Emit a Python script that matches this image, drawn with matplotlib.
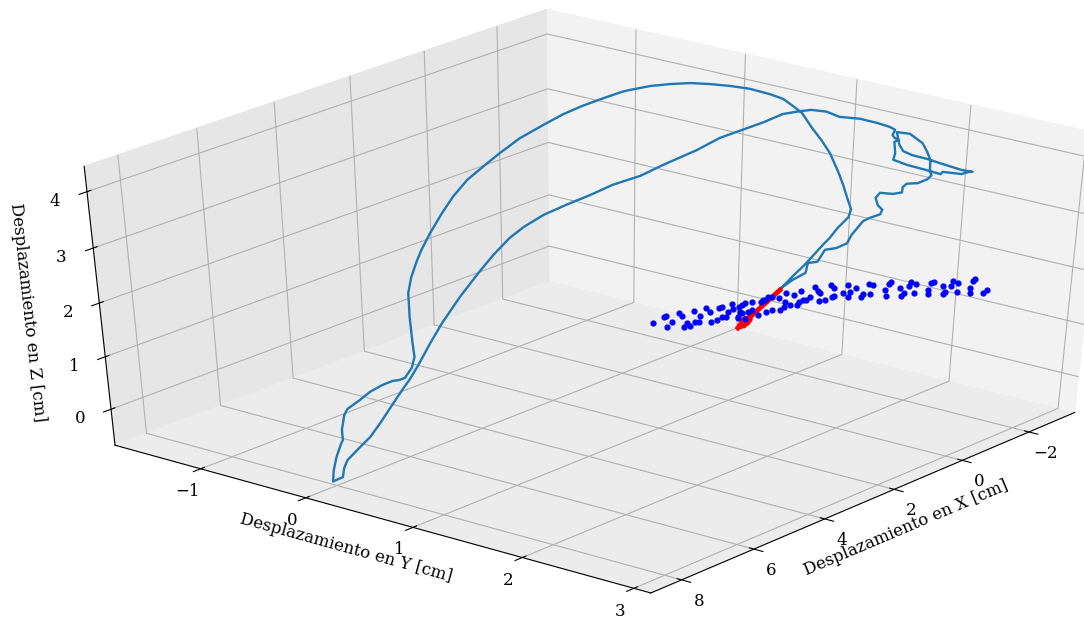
import numpy as np
import matplotlib
matplotlib.use('Agg')
import matplotlib.pyplot as plt
from matplotlib.transforms import Bbox

plt.rcParams['font.family'] = 'DejaVu Serif'
plt.rcParams['font.size'] = 12

curve_x = [0.74,0.59,0.47,0.28,0.21,0.13,0.03,0.00,0.04,0.10,0.16,0.26,0.35,0.46,0.57,0.67,0.78,0.92,1.13,1.34,1.55,1.76,1.97,2.18,2.38,2.46,
2.67,2.88,3.09,3.30,3.55,3.76,3.90,4.11,4.27,4.40,4.53,4.63,4.69,4.76,4.80,4.79,4.77,4.76,4.79,4.87,4.93,5.02,5.13,5.27,5.39,5.54,
5.58,5.61,5.60,5.63,5.69,5.73,5.74,5.63,5.61,5.56,5.48,5.39,5.30,5.18,5.03,4.90,4.82,4.72,4.58,4.44,4.23,4.03,3.86,3.67,3.53,3.31,
3.05,2.81,2.56,2.27,2.03,1.67,1.43,1.19,0.98,0.77,0.60,0.47,0.31,0.17,-0.04,-0.22,-0.36,-0.42,-0.39,-0.42,-0.47,-0.42,-0.43,-0.42,
-0.57,-0.78,-0.93,-0.95,-1.06,-1.16,-1.22,-1.27,-1.16,-1.06,-0.92,-0.79,-0.62,-0.52,-0.47,-0.45,-0.44,-0.58,-0.72,-0.77,-0.81,-0.82,
-0.84,-0.80,-0.70,-0.58,-0.54,-0.53,-0.44,-0.30,-0.25,-0.29,-0.33,-0.31,-0.21,-0.13,-0.07,-0.02,0.03,0.13,0.26,0.33,0.44,0.46,0.59,
0.73]
curve_y = [1.66,1.73,1.79,1.89,1.92,1.96,2.02,2.03,2.01,1.98,1.95,1.90,1.85,1.80,1.74,1.69,1.64,1.57,1.46,1.36,1.25,1.15,1.04,0.94,0.83,0.79,
0.69,0.58,0.48,0.37,0.25,0.14,0.07,-0.04,-0.12,-0.18,-0.25,-0.30,-0.33,-0.36,-0.38,-0.38,-0.37,-0.36,-0.38,-0.42,-0.45,-0.49,-0.55,
-0.62,-0.68,-0.75,-0.77,-0.79,-0.79,-0.80,-0.83,-0.85,-0.86,-0.80,-0.79,-0.77,-0.72,-0.68,-0.63,-0.57,-0.50,-0.43,-0.39,-0.34,-0.27,
-0.20,-0.10,0.01,0.09,0.18,0.26,0.37,0.50,0.62,0.74,0.89,1.01,1.19,1.31,1.43,1.54,1.64,1.73,1.79,1.87,1.94,2.05,2.14,2.21,2.24,2.23,
2.24,2.26,2.24,2.25,2.24,2.32,2.42,2.50,2.51,2.57,2.61,2.65,2.67,2.61,2.56,2.49,2.43,2.34,2.29,2.27,2.26,2.25,2.32,2.39,2.42,2.44,
2.44,2.45,2.43,2.38,2.32,2.30,2.30,2.25,2.18,2.16,2.17,2.20,2.19,2.13,2.10,2.07,2.04,2.02,1.96,1.90,1.86,1.81,1.80,1.73,1.66]
curve_z = [1.94,2.20,2.40,2.78,2.89,3.07,3.27,3.41,3.57,3.84,4.07,4.40,4.62,4.83,5.09,5.21,5.33,5.41,5.50,5.55,5.58,5.60,5.58,5.55,5.48,5.45,
5.34,5.21,5.07,4.88,4.66,4.40,4.22,3.93,3.63,3.34,2.98,2.68,2.46,2.18,1.89,1.44,0.95,0.69,0.48,0.29,0.25,0.23,0.15,0.02,-0.14,-0.31,
-0.43,-0.72,-0.92,-1.00,-1.26,-1.52,-1.75,-1.66,-1.48,-1.32,-1.16,-1.02,-0.86,-0.59,-0.24,0.09,0.27,0.54,0.95,1.33,1.81,2.26,2.58,
2.89,3.09,3.31,3.50,3.66,3.84,4.00,4.19,4.45,4.66,4.80,4.93,5.07,5.12,5.14,5.11,5.02,4.99,4.92,4.85,4.80,4.71,4.66,4.62,4.59,4.40,
4.28,4.19,4.10,4.03,4.07,4.05,4.03,4.07,4.07,4.10,4.15,4.22,4.29,4.36,4.43,4.54,4.66,4.76,4.73,4.57,4.42,4.28,4.07,4.01,3.94,3.87,
3.86,3.80,3.71,3.68,3.70,3.61,3.48,3.40,3.32,3.25,3.20,3.07,2.95,2.80,2.71,2.68,2.46,2.44,2.26,2.13,1.96]

dots_x = [2.12,1.99,1.97,1.91,1.96,1.84,1.80,1.78,1.74,1.71,1.67,1.65,1.61,1.60,1.53,1.49,1.47,1.41,1.40,1.36,1.36,1.32,1.30,1.25,1.23,1.18,
1.18,1.14,1.11,1.14,1.07,1.04,1.03,1.10,0.96,0.94,0.89,0.88,0.85,0.82,0.81,0.74,0.72,0.69,0.67,0.66,0.62,0.58,0.54,0.52,0.49,0.47,
0.43,0.40,0.35,0.31,0.29,0.30,0.23,0.17,0.15,0.16,0.14,0.04,-0.01,-0.03,-0.02,-0.11,-0.15,-0.18,-0.23,-0.28,-0.26,-0.42,-0.43,-0.46,
-0.49,-0.58,-0.63,-0.59,-0.68,-0.69,-0.73,-0.75,-0.88,-0.89,-0.92,-0.95,-1.05,-1.08,-1.05,-1.13,-1.15,-1.21,-1.20,-1.35,-1.35,-1.38,
-1.39,-1.50,-1.53,1.16,1.18,0.91]
dots_y = [0.97,1.03,1.04,1.07,1.05,1.11,1.13,1.14,1.16,1.17,1.19,1.20,1.22,1.23,1.26,1.28,1.29,1.32,1.33,1.35,1.35,1.37,1.38,1.40,1.41,1.44,
1.44,1.46,1.47,1.46,1.49,1.51,1.51,1.48,1.55,1.56,1.58,1.59,1.60,1.62,1.62,1.66,1.67,1.69,1.69,1.70,1.72,1.74,1.76,1.77,1.78,1.79,
1.81,1.83,1.86,1.87,1.88,1.88,1.91,1.94,1.96,1.95,1.96,2.01,2.04,2.05,2.04,2.08,2.11,2.12,2.15,2.17,2.16,2.24,2.25,2.26,2.27,2.32,
2.35,2.33,2.37,2.38,2.40,2.41,2.48,2.48,2.49,2.51,2.56,2.57,2.56,2.60,2.61,2.64,2.64,2.71,2.71,2.72,2.73,2.78,2.80,1.45,1.44,1.57]
dots_z = [1.336,1.448,1.461,1.355,1.249,1.523,1.461,1.261,1.324,1.28,1.56,1.355,1.355,1.461,1.604,1.542,1.355,1.386,1.604,1.635,1.436,1.448,1.542,1.678,1.585,1.635,1.417,1.666,1.697,1.511,1.542,1.728,1.573,1.398,1.479,1.728,1.759,1.542,1.82,1.808,1.573,1.789,1.573,1.635,1.728,1.882,1.666,1.851,1.666,1.728,1.931,1.759,1.759,1.82,1.993,1.931,1.882,1.746,1.759,2.036,1.974,1.82,1.833,1.882,2.036,1.913,1.808,1.974,1.82,1.864,2.054,2.036,1.864,1.944,1.833,2.054,2.079,1.974,1.882,1.833,2.017,2.097,1.882,2.054,1.956,1.864,2.067,2.097,2.017,1.913,1.864,2.017,2.116,2.079,1.901,1.974,1.882,2.116,2.14,1.894,1.944,1.535,1.442,1.759]

shaft_x = [0.73,1.176]
shaft_y = [1.663,1.439]
shaft_z = [1.944,1.236]
head_x = [1.058,1.09,1.122,1.154]
head_y = [1.498,1.482,1.466,1.45]
head_z = [1.405,1.367,1.311,1.274]
head_sizes = [20,40,30,14]

x_ticks = [-2,0,2,4,6,8]
y_ticks = [-1,0,1,2,3]
z_ticks = [0,1,2,3,4]

fig = plt.figure(figsize=(10.84,6.21), dpi=100)
rect = [-0.065,-0.0128,1.2,1.0504]
ax = fig.add_axes(rect, projection='3d')
ax.apply_aspect = lambda position=None: None
ax._set_position(Bbox.from_bounds(*rect), 'both')
ax.set_box_aspect((1,1,1), zoom=0.909)
ax.set_xlim(-3.39,8.84); ax.set_ylim(-1.83,3.15); ax.set_zlim(-0.7,4.44)
ax.view_init(elev=38, azim=39)
ax.set_xticks(x_ticks); ax.set_yticks(y_ticks); ax.set_zticks(z_ticks)
ax.set_xlabel('Desplazamiento en X [cm]')
ax.set_ylabel('Desplazamiento en Y [cm]')
ax.set_zlabel('Desplazamiento en Z [cm]', labelpad=5.5)
for a, c in ((ax.xaxis,.95),(ax.yaxis,.90),(ax.zaxis,.925)):
    a.set_pane_color((c,c,c,1))

ax.plot(curve_x, curve_y, curve_z, color='C0', lw=1.7)
ax.scatter(dots_x, dots_y, dots_z, color='b', s=12, depthshade=False)
ax.plot(shaft_x, shaft_y, shaft_z, color='r', lw=3.5)
ax.scatter(head_x, head_y, head_z, color='r', s=head_sizes, depthshade=False)
fig.savefig('out.png', dpi=100)
